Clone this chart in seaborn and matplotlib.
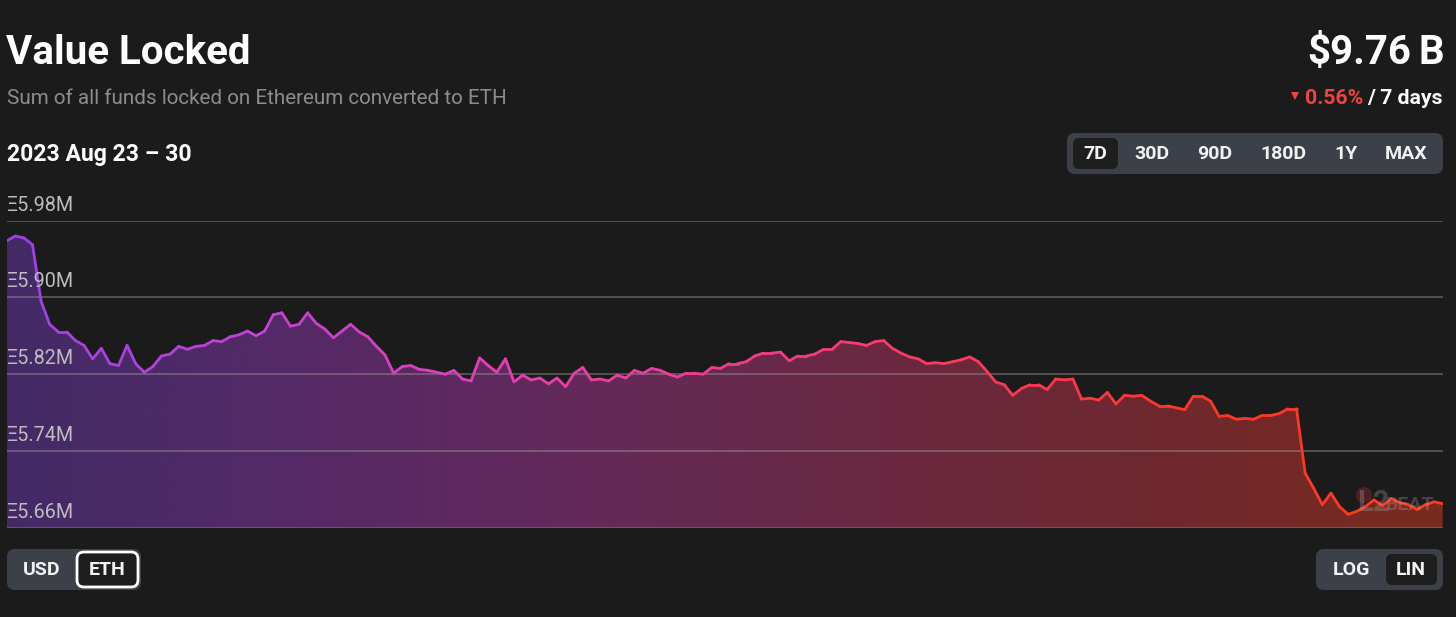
import numpy as np
import pandas as pd
import matplotlib
matplotlib.use("Agg")
import matplotlib.pyplot as plt
import seaborn as sns
from matplotlib.collections import LineCollection
from matplotlib.colors import LinearSegmentedColormap
from matplotlib.patches import FancyBboxPatch

# ---------------- data (values in millions of ETH, hourly, 7 days) ----------------
hours = list(range(168))
value_locked_m = [
    5.959, 5.964, 5.962, 5.955, 5.896, 5.872, 5.864, 5.864, 5.855, 5.850,
    5.836, 5.847, 5.831, 5.829, 5.850, 5.831, 5.822, 5.828, 5.839, 5.841,
    5.849, 5.846, 5.849, 5.850, 5.855, 5.854, 5.859, 5.861, 5.865, 5.860,
    5.865, 5.882, 5.884, 5.870, 5.872, 5.884, 5.873, 5.867, 5.858, 5.865,
    5.872, 5.864, 5.859,
    5.849, 5.840, 5.821, 5.828, 5.829, 5.825, 5.824, 5.822, 5.820, 5.824,
    5.815, 5.813, 5.837, 5.829, 5.822, 5.836, 5.812, 5.819, 5.814, 5.816,
    5.810, 5.816, 5.807, 5.821, 5.827, 5.814, 5.815, 5.813, 5.819, 5.816,
    5.824, 5.821, 5.826, 5.824, 5.820, 5.817, 5.821, 5.821, 5.820, 5.827,
    5.826,
    5.831, 5.831, 5.833, 5.839, 5.842, 5.842, 5.843, 5.834, 5.839, 5.839,
    5.841, 5.846, 5.846, 5.854, 5.853, 5.852, 5.850, 5.854, 5.855, 5.847,
    5.842, 5.838, 5.836, 5.831, 5.832, 5.831, 5.833, 5.835, 5.838, 5.833,
    5.823, 5.812, 5.809, 5.798, 5.805, 5.809, 5.809, 5.804, 5.815, 5.814,
    5.815,
    5.794, 5.795, 5.793, 5.801, 5.789, 5.798, 5.797, 5.798, 5.792, 5.787,
    5.787, 5.785, 5.783, 5.797, 5.797, 5.792, 5.776, 5.777, 5.773, 5.774,
    5.773, 5.777, 5.777, 5.779, 5.784, 5.784, 5.717, 5.701, 5.684, 5.696,
    5.682, 5.674, 5.677, 5.682, 5.689, 5.683, 5.690, 5.686, 5.684, 5.679,
    5.684, 5.687, 5.685,
]
y_ticks = [5.66, 5.74, 5.82, 5.90, 5.98]
y_tick_labels = ["Ξ5.66M", "Ξ5.74M", "Ξ5.82M", "Ξ5.90M", "Ξ5.98M"]
range_buttons = ["7D", "30D", "90D", "180D", "1Y", "MAX"]

df = pd.DataFrame({"hour": hours, "value": value_locked_m})

# ---------------- style ----------------
BG = "#1b1b1b"
sns.set_theme(style="dark")
plt.rcParams["font.family"] = ["Roboto", "DejaVu Sans"]

W, H = 1456, 617
fig = plt.figure(figsize=(W / 100, H / 100), dpi=100, facecolor=BG)

def px_rect(x0, y0, x1, y1):
    return [x0 / W, 1 - y1 / H, (x1 - x0) / W, (y1 - y0) / H]

ax = fig.add_axes(px_rect(6.7, 220.7, 1442.7, 527.7))
ax.set_facecolor("none")

sns.lineplot(data=df, x="hour", y="value", ax=ax, color="white", linewidth=1)
line = ax.lines[0]
xy = line.get_xydata()
line.remove()
xs, ys = xy[:, 0], xy[:, 1]

ymin, ymax = 5.66, 5.98
ax.set_xlim(xs.min(), xs.max())
ax.set_ylim(ymin, ymax)

# gradient fill clipped to area under curve
fill_cmap = LinearSegmentedColormap.from_list(
    "fill", ["#432a66", "#552a66", "#64295a", "#6a2942", "#6e282e", "#7a2b1e"])
poly = ax.fill_between(xs, ys, ymin, color="none", linewidth=0)
grad = np.linspace(0, 1, 512).reshape(1, -1)
im = ax.imshow(grad, cmap=fill_cmap, aspect="auto",
               extent=[xs.min(), xs.max(), ymin, ymax], origin="lower", zorder=1)
im.set_clip_path(poly.get_paths()[0], transform=ax.transData)

# gridlines
for t in y_ticks:
    ax.axhline(t, color="#9a9a9a", alpha=0.55, linewidth=1.1, zorder=2)

# gradient line
line_cmap = LinearSegmentedColormap.from_list(
    "line", ["#9d40e6", "#c043d6", "#e23fb8", "#f23c8c", "#fb3a5c", "#ff3528", "#ff3a22"])
pts = np.column_stack([xs, ys]).reshape(-1, 1, 2)
segs = np.concatenate([pts[:-1], pts[1:]], axis=1)
lc = LineCollection(segs, cmap=line_cmap, linewidth=2.0, zorder=3,
                    capstyle="round", joinstyle="round")
lc.set_array((xs[:-1] + xs[1:]) / 2 / xs.max())
lc.set_clim(0, 1)
ax.add_collection(lc)

ax.set_xticks([])
ax.set_yticks([])
ax.set_xlabel("")
ax.set_ylabel("")
for s in ax.spines.values():
    s.set_visible(False)
ax.grid(False)

# ---------------- overlay in pixel coordinates ----------------
ov = fig.add_axes([0, 0, 1, 1], facecolor="none")
ov.set_xlim(0, W)
ov.set_ylim(H, 0)
ov.axis("off")

# y tick labels
for t, lab in zip(y_ticks, y_tick_labels):
    ypix = 220.7 + (ymax - t) / (ymax - ymin) * (527.7 - 220.7)
    ov.text(7, ypix - 15.5, lab, color="#bdbdbd", fontsize=14.2,
            ha="left", va="center")

# headings
ov.text(6, 53.5, "Value Locked", color="white", fontsize=29, fontweight="bold",
        ha="left", va="center")
ov.text(7, 98.5, "Sum of all funds locked on Ethereum converted to ETH",
        color="#8c8c8c", fontsize=14.9, ha="left", va="center")
ov.text(7, 154.5, "2023 Aug 23 – 30", color="white", fontsize=16.6,
        fontweight="bold", ha="left", va="center")

ov.text(1411, 53.5, "$9.76", color="white", fontsize=29, fontweight="bold",
        ha="right", va="center")
ov.text(1444, 53.5, "B", color="white", fontsize=29, fontweight="bold",
        ha="right", va="center")
ov.text(1443, 98, "/ 7 days", color="white", fontsize=15.3, fontweight="bold",
        ha="right", va="center")
ov.text(1363.5, 98, "0.56%", color="#ef4444", fontsize=15.3, fontweight="bold",
        ha="right", va="center")
ov.plot([1295], [95.5], marker="v", color="#ef4444", markersize=5.5,
        markeredgewidth=0)

# range buttons
def rbox(x0, y0, x1, y1, fc, ec="none", lw=0, r=8):
    ov.add_patch(FancyBboxPatch((x0, y0), x1 - x0, y1 - y0,
                                boxstyle=f"round,pad=0,rounding_size={r}",
                                fc=fc, ec=ec, lw=lw))

BTN = "#3b4049"
rbox(1067, 133, 1443, 174, BTN)
rbox(1073, 138, 1118, 169, "#1e1e1e", r=6)
for lab, cx in zip(range_buttons, [1095.5, 1152, 1215, 1283, 1346, 1406]):
    ov.text(cx, 154, lab, color="#f2f2f2", fontsize=14, fontweight="bold",
            ha="center", va="center")

# unit toggle
rbox(7, 549, 141, 590, BTN)
rbox(77, 552, 138, 587, "#1e1e1e", ec="white", lw=2, r=7)
ov.text(42, 570, "USD", color="#f2f2f2", fontsize=14, fontweight="bold",
        ha="center", va="center")
ov.text(107, 570, "ETH", color="#f2f2f2", fontsize=14, fontweight="bold",
        ha="center", va="center")

# scale toggle
rbox(1316, 549, 1443, 590, BTN)
rbox(1386, 554, 1437, 585, "#1e1e1e", r=6)
ov.text(1351, 570, "LOG", color="#f2f2f2", fontsize=14, fontweight="bold",
        ha="center", va="center")
ov.text(1411, 570, "LIN", color="#f2f2f2", fontsize=14, fontweight="bold",
        ha="center", va="center")

# watermark
ov.add_patch(plt.Circle((1364, 495), 8, color="#b02838", alpha=0.35, lw=0))
ov.text(1357, 503, "L2", color="#b0b0b0", alpha=0.28, fontsize=21,
        fontweight="bold", ha="left", va="center")
ov.text(1386, 505, "BEAT", color="#b0b0b0", alpha=0.28, fontsize=14,
        fontweight="bold", ha="left", va="center")

fig.savefig("out.png", dpi=100, facecolor=BG)
